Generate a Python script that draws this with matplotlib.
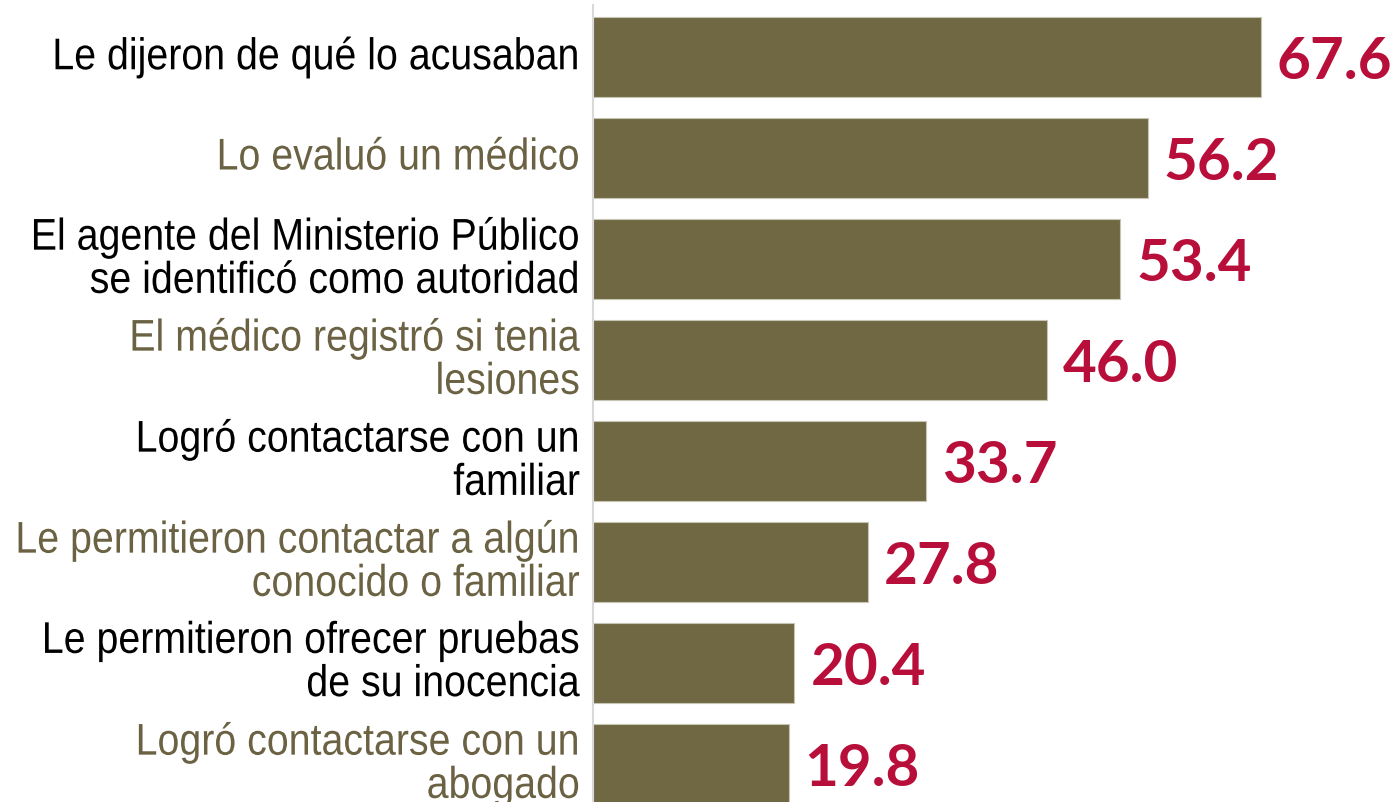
import matplotlib
matplotlib.use("Agg")
import matplotlib.pyplot as plt
from matplotlib.patheffects import AbstractPathEffect
from matplotlib.transforms import Affine2D

labels = [
    "Le dijeron de qué lo acusaban",
    "Lo evaluó un médico",
    "El agente del Ministerio Público\nse identificó como autoridad",
    "El médico registró si tenia\nlesiones",
    "Logró contactarse con un\nfamiliar",
    "Le permitieron contactar a algún\nconocido o familiar",
    "Le permitieron ofrecer pruebas\nde su inocencia",
    "Logró contactarse con un\nabogado",
]
values = [67.6, 56.2, 53.4, 46.0, 33.7, 27.8, 20.4, 19.8]
label_colors = ["#000000", "#6b6243"] * 4

BAR = "#706843"
VALUE = "#b80f3a"

W, H = 1397, 802
AX_LEFT = 593
LABEL_RIGHT = 580  # px, right edge of the category labels


class HSqueeze(AbstractPathEffect):
    """Squeeze text horizontally about a fixed x (fakes a narrow face)."""

    def __init__(self, sx, x0):
        super().__init__()
        self.sx, self.x0 = sx, x0

    def draw_path(self, renderer, gc, tpath, affine, rgbFace=None):
        aff = affine + Affine2D().translate(-self.x0, 0).scale(self.sx, 1).translate(self.x0, 0)
        renderer.draw_path(gc, tpath, aff, rgbFace)


fig = plt.figure(figsize=(W / 100, H / 100), dpi=100)
ax = fig.add_axes([AX_LEFT / W, 0, 1 - AX_LEFT / W, 797 / H])

ypos = list(range(len(values)))
ax.barh(ypos, values, height=0.79, color=BAR, edgecolor="#c8c4b4", linewidth=0.8)
ax.set_xlim(0, 81.4)
ax.set_ylim(7.376, -0.515)

for y, v in zip(ypos, values):
    ax.text(v + 1.6, y + 0.05, f"{v:.1f}", va="center", ha="left",
            fontsize=42, fontweight="bold", color=VALUE, family="Lato")

squeeze = HSqueeze(0.885, LABEL_RIGHT)
for y, lab, c in zip(ypos, labels, label_colors):
    ax.text(-(AX_LEFT - LABEL_RIGHT) / (W - AX_LEFT), y, lab,
            transform=ax.get_yaxis_transform(), ha="right", va="center",
            fontsize=32, color=c, family="Liberation Sans",
            linespacing=1.07, multialignment="right", path_effects=[squeeze])

ax.set_xticks([])
ax.set_yticks([])
for s in ["top", "right", "bottom"]:
    ax.spines[s].set_visible(False)
ax.spines["left"].set_color("#d9d9d9")
ax.spines["left"].set_linewidth(1.5)

fig.savefig("out.png", dpi=100)
